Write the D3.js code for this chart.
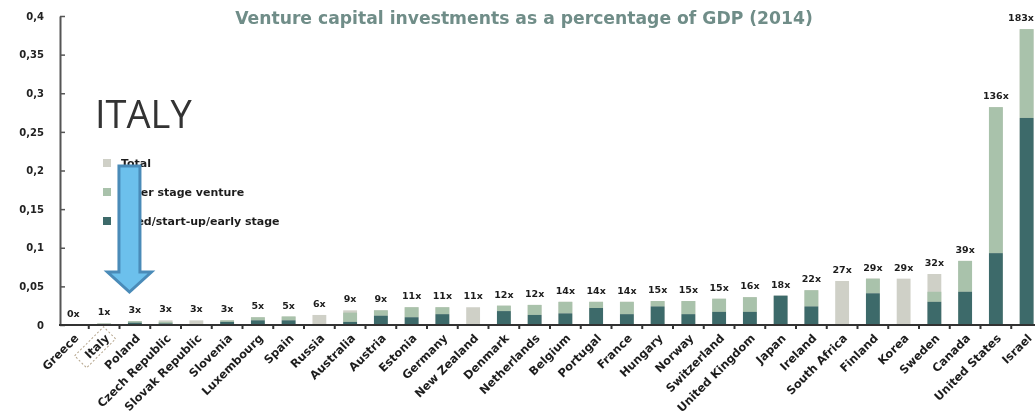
<!DOCTYPE html>
<html>
<head>
<meta charset="utf-8">
<script src="https://cdn.jsdelivr.net/npm/d3@7/dist/d3.min.js"></script>
<style>
  html, body { margin: 0; padding: 0; background: #fff; }
  svg { display: block; }
</style>
</head>
<body>
<svg id="chart" width="1035" height="418"></svg>
<script>
// Venture capital investments as a percentage of GDP, 2014
const countries = ["Greece","Italy","Poland","Czech Republic","Slovak Republic","Slovenia","Luxembourg","Spain","Russia","Australia","Austria","Estonia","Germany","New Zealand","Denmark","Netherlands","Belgium","Portugal","France","Hungary","Norway","Switzerland","United Kingdom","Japan","Ireland","South Africa","Finland","Korea","Sweden","Canada","United States","Israel"];
// total VC investment (% of GDP)
const totalValues = [0.0006,0.002,0.005,0.006,0.006,0.006,0.010,0.011,0.013,0.019,0.019,0.023,0.023,0.023,0.025,0.026,0.030,0.030,0.030,0.031,0.031,0.034,0.036,0.038,0.045,0.057,0.060,0.060,0.066,0.083,0.282,0.383];
// seed / start-up / early stage
const seedValues = [0,0.001,0.003,0.002,0,0.004,0.006,0.006,0,0.004,0.012,0.010,0.014,0,0.018,0.013,0.015,0.022,0.014,0.024,0.014,0.017,0.017,0.038,0.024,0,0.041,0,0.030,0.043,0.093,0.268];
// later stage venture
const laterValues = [0,0.001,0.002,0.002,0,0.002,0.004,0.005,0,0.012,0.007,0.013,0.009,0,0.007,0.013,0.015,0.008,0.016,0.007,0.017,0.017,0.019,0,0.021,0,0.019,0,0.013,0.040,0.189,0.115];
// multiple of Italy's level
const multipleLabels = ["0x","1x","3x","3x","3x","3x","5x","5x","6x","9x","9x","11x","11x","11x","12x","12x","14x","14x","14x","15x","15x","15x","16x","18x","22x","27x","29x","29x","32x","39x","136x","183x"];
const yTickValues = [0,0.05,0.1,0.15,0.2,0.25,0.3,0.35,0.4];
const yTickLabels = ["0","0,05","0,1","0,15","0,2","0,25","0,3","0,35","0,4"];
const legendItems = ["Total","Later stage venture","Seed/start-up/early stage"];

const colTotal = "#cfd0c7", colLater = "#a9c2ab", colSeed = "#3e6a6b";
const legendColors = [colTotal, colLater, colSeed];
const font = "'DejaVu Sans', sans-serif";
const W = 1035;

const svg = d3.select("#chart");
const defs = svg.append("defs");
defs.append("filter").attr("id","soft").append("feGaussianBlur").attr("stdDeviation",0.55);

const chart = svg.append("g").attr("filter","url(#soft)");

const x = d3.scaleBand().domain(countries).range([58, 1042]).paddingInner(0.55).paddingOuter(0.275);
const y = d3.scaleLinear().domain([0, 0.4]).range([325, 16]);
const step = x.step();

// title
chart.append("text")
  .attr("x", 524).attr("y", 24)
  .attr("text-anchor","middle")
  .attr("font-family", font).attr("font-weight","bold").attr("font-size", 17.2)
  .attr("fill","#6f8d88")
  .text("Venture capital investments as a percentage of GDP (2014)");

// y axis
const yAxis = d3.axisLeft(y).tickValues(yTickValues)
  .tickFormat((d,i) => yTickLabels[i]).tickSizeInner(-5).tickSizeOuter(0).tickPadding(16);
const ga = chart.append("g").attr("transform","translate(60,0)").call(yAxis);
ga.select(".domain").attr("stroke","#555").attr("stroke-width",2);
ga.selectAll(".tick line").attr("stroke","#555").attr("stroke-width",1.5);
ga.selectAll(".tick text").attr("font-family",font).attr("font-weight","bold")
  .attr("font-size",10).attr("fill","#222");

// bars: total behind, stacked seed + later in front
const bars = chart.append("g").selectAll("g").data(countries).join("g");
bars.append("rect")
  .attr("x", d => x(d)).attr("width", x.bandwidth())
  .attr("y", (d,i) => y(totalValues[i]))
  .attr("height", (d,i) => y(0) - y(totalValues[i]))
  .attr("fill", colTotal);
bars.append("rect")
  .attr("x", d => x(d)).attr("width", x.bandwidth())
  .attr("y", (d,i) => y(seedValues[i] + laterValues[i]))
  .attr("height", (d,i) => y(seedValues[i]) - y(seedValues[i] + laterValues[i]))
  .attr("fill", colLater);
bars.append("rect")
  .attr("x", d => x(d)).attr("width", x.bandwidth())
  .attr("y", (d,i) => y(seedValues[i]))
  .attr("height", (d,i) => y(0) - y(seedValues[i]))
  .attr("fill", colSeed);

// multiple labels above bars (kept inside the right edge)
bars.append("text")
  .attr("x", d => Math.min(x(d) + x.bandwidth()/2, W - 14))
  .attr("y", (d,i) => y(totalValues[i]) - 8)
  .attr("text-anchor","middle")
  .attr("font-family",font).attr("font-weight","bold").attr("font-size",9.5)
  .attr("fill","#1e1e1e")
  .text((d,i) => multipleLabels[i]);

// x axis line and boundary ticks
chart.append("line").attr("x1",59).attr("x2",W).attr("y1",y(0)).attr("y2",y(0))
  .attr("stroke","#333").attr("stroke-width",2);
chart.append("g").selectAll("line").data(countries.slice(1)).join("line")
  .attr("x1", d => x(d) - step*0.275).attr("x2", d => x(d) - step*0.275)
  .attr("y1", y(0)).attr("y2", y(0) + 4)
  .attr("stroke","#333").attr("stroke-width",2);

// category labels
const xl = chart.append("g").selectAll("g").data(countries).join("g")
  .attr("transform", d => `translate(${x(d) + x.bandwidth()/2 + 3},${y(0) + 11}) rotate(-45)`);
xl.append("text")
  .attr("text-anchor","end").attr("dy","0.35em")
  .attr("font-family",font).attr("font-weight","bold").attr("font-size",11.5)
  .attr("fill","#1e1e1e")
  .text(d => d);
// dashed highlight round Italy
xl.filter(d => d === "Italy").append("rect")
  .attr("x", -37).attr("y", -9).attr("width", 41).attr("height", 17)
  .attr("fill","none").attr("stroke","#b5a58c").attr("stroke-width",1).attr("stroke-dasharray","2,2");

// legend
const lg = chart.append("g").selectAll("g").data(legendItems).join("g")
  .attr("transform", (d,i) => `translate(103,${163 + i*29})`);
lg.append("rect").attr("x",0).attr("y",-4).attr("width",8).attr("height",8)
  .attr("fill",(d,i) => legendColors[i]);
lg.append("text").attr("x",18).attr("dy","0.35em")
  .attr("font-family",font).attr("font-weight","bold").attr("font-size",11)
  .attr("fill","#1e1e1e").text(d => d);

// annotation: ITALY with arrow
svg.append("text").attr("x",95).attr("y",128)
  .attr("font-family","'Open Sans', 'Noto Sans', sans-serif").attr("font-size",38)
  .attr("fill","#333").text("ITALY");

const ax = x("Poland") + 1.5;
const arrow = d3.path();
arrow.moveTo(ax - 10.5, 166);
arrow.lineTo(ax + 10.5, 166);
arrow.lineTo(ax + 10.5, 272);
arrow.lineTo(ax + 22, 272);
arrow.lineTo(ax, 292);
arrow.lineTo(ax - 22, 272);
arrow.lineTo(ax - 10.5, 272);
arrow.closePath();
svg.append("path").attr("d", arrow.toString())
  .attr("fill","#6cc0ec").attr("stroke","#4a8bb8").attr("stroke-width",3)
  .attr("stroke-linejoin","miter");
</script>
</body>
</html>
